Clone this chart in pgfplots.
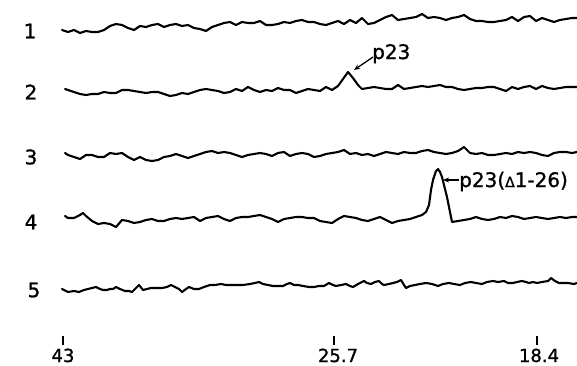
\documentclass[border=0pt]{standalone}
\usepackage{pgfplots}
\pgfplotsset{compat=1.18}
\usetikzlibrary{arrows.meta}
\usepackage{fontspec}
\setmainfont{DejaVu Sans}[FakeBold=1.2]
\newfontfamily\heavy{DejaVu Sans}[FakeBold=1.2]
\tikzset{trace/.style={black, line width=2.1pt, line join=round, line cap=round, mark=none}}
\begin{document}
\begin{tikzpicture}
\begin{axis}[name=ax,
  width=577pt, height=365pt, scale only axis,
  xmin=0, xmax=577, ymin=0, ymax=365, y dir=reverse,
  hide axis, clip=false]
% trace 1
\addplot[trace] coordinates {(62,30)(68,32)(74,30)(80,33)(86,31)(92,32)(98,32)(104,30)(110,26)(116,24)(122,25)(128,28)(134,30)(140,26)(146,27)(152,25)(158,24)(164,27)(170,25)(176,24)(182,26)(188,25)(194,28)(200,29)(206,31)(212,27)(218,25)(224,23)(230,22)(236,25)(242,22)(248,23)(254,23)(260,21)(266,25)(272,25)(278,24)(284,22)(290,23)(296,21)(302,20)(308,22)(314,22)(320,24)(326,25)(332,23)(338,21)(344,24)(350,20)(356,23)(362,18)(368,24)(374,23)(380,20)(386,17)(392,15)(398,20)(404,19)(410,18)(416,17)(422,14)(428,18)(434,17)(440,18)(446,20)(452,18)(458,17)(464,15)(470,19)(476,21)(482,21)(488,22)(494,22)(500,21)(506,20)(512,17)(518,21)(524,17)(530,16)(536,21)(542,18)(548,20)(554,22)(560,20)(566,19)(572,18)(577,18)};
% trace 2
\addplot[trace] coordinates {(65,89)(68,90)(74,92)(80,94)(86,95)(92,94)(98,94)(104,92)(110,93)(116,93)(122,90)(128,90)(134,91)(140,92)(146,93)(152,92)(158,92)(164,94)(170,96)(176,95)(182,93)(188,94)(194,92)(200,90)(206,89)(212,90)(218,91)(224,93)(230,92)(236,89)(242,91)(248,87)(254,90)(260,92)(266,90)(272,91)(278,88)(284,90)(290,90)(296,93)(302,91)(308,89)(314,90)(320,91)(326,87)(332,90)(338,86)(343,79)(348,72)(353,78)(358,85)(362,89)(368,88)(374,87)(380,88)(386,89)(392,89)(398,85)(404,89)(410,88)(416,87)(422,86)(428,87)(434,86)(440,85)(446,87)(452,87)(458,89)(464,90)(470,89)(476,88)(482,88)(488,87)(494,87)(500,89)(506,91)(512,87)(518,89)(524,87)(530,86)(536,89)(542,86)(548,88)(554,89)(560,88)(566,87)(572,87)(577,87)};
% trace 3
\addplot[trace] coordinates {(65,153)(68,155)(74,157)(80,159)(86,155)(92,155)(98,157)(104,157)(110,153)(116,154)(122,153)(128,157)(134,160)(140,157)(146,160)(152,161)(158,160)(164,157)(170,156)(176,154)(182,156)(188,158)(194,156)(200,154)(206,152)(212,151)(218,153)(224,152)(230,153)(236,155)(242,157)(248,155)(254,154)(260,153)(266,154)(272,156)(278,153)(284,152)(290,156)(296,154)(302,153)(308,154)(314,157)(320,156)(326,154)(332,153)(338,152)(344,150)(350,154)(356,153)(362,155)(368,154)(374,156)(380,154)(386,152)(392,153)(398,154)(404,152)(410,153)(416,153)(422,151)(428,150)(434,152)(440,153)(446,154)(452,153)(458,151)(464,147)(470,153)(476,154)(482,153)(488,155)(494,155)(500,154)(506,153)(512,154)(518,152)(524,153)(530,152)(536,153)(542,155)(548,156)(554,153)(560,152)(566,152)(572,153)(577,152)};
% trace 4
\addplot[trace] coordinates {(65,216)(68,218)(74,218)(80,215)(83,213)(86,216)(92,221)(98,224)(104,223)(110,224)(116,227)(122,220)(128,221)(134,223)(140,222)(146,220)(152,219)(158,221)(164,221)(170,219)(176,218)(182,219)(188,218)(194,217)(200,221)(206,218)(212,217)(218,216)(224,219)(230,221)(236,218)(242,217)(248,217)(254,216)(260,215)(266,217)(272,219)(278,222)(284,219)(290,218)(296,217)(302,217)(308,218)(314,218)(320,221)(326,222)(332,223)(338,219)(344,216)(350,217)(356,218)(362,220)(368,221)(374,219)(380,217)(386,220)(392,223)(398,221)(404,220)(410,219)(416,217)(422,215)(426,212)(429,205)(431,190)(433,180)(436,171)(438,169)(440,172)(442,177)(444,185)(447,197)(450,212)(452,222)(458,221)(464,220)(470,219)(476,217)(482,219)(488,220)(494,219)(500,217)(506,218)(512,216)(518,217)(524,219)(530,218)(536,217)(542,218)(548,219)(554,218)(560,217)(566,218)(572,217)(577,217)};
% trace 5
\addplot[trace] coordinates {(62,289)(68,292)(74,291)(79,292)(84,290)(88,289)(92,288)(96,287)(100,289)(103,290)(107,290)(110,289)(113,289)(116,287)(120,289)(125,291)(129,291)(132,292)(136,288)(139,285)(143,290)(147,289)(151,288)(156,288)(162,288)(167,287)(171,285)(175,287)(179,289)(182,292)(186,289)(189,287)(194,289)(199,289)(204,287)(210,285)(215,285)(221,284)(226,285)(232,285)(238,285)(243,285)(250,284)(255,283)(259,282)(263,284)(268,285)(273,286)(278,286)(283,286)(287,284)(290,283)(294,285)(298,285)(303,286)(309,287)(314,287)(319,286)(324,286)(329,283)(333,285)(336,286)(341,285)(346,284)(350,286)(353,287)(358,284)(364,281)(367,283)(371,284)(375,282)(379,281)(382,284)(384,285)(389,284)(393,283)(397,282)(401,280)(404,285)(406,288)(410,286)(415,285)(420,284)(426,283)(432,284)(438,286)(443,284)(449,283)(454,284)(460,285)(465,283)(471,282)(476,283)(482,284)(487,282)(493,281)(498,282)(504,281)(508,283)(513,283)(517,282)(522,281)(526,282)(529,283)(533,282)(537,283)(542,282)(548,281)(551,278)(555,281)(559,283)(563,283)(568,283)(574,284)(577,283)};
% lane labels
\node[inner sep=0, font=\heavy\fontsize{20}{20}\selectfont] at (axis cs:30,31) {1};
\node[inner sep=0, font=\heavy\fontsize{20}{20}\selectfont] at (axis cs:31,92) {2};
\node[inner sep=0, font=\heavy\fontsize{20}{20}\selectfont] at (axis cs:31,157) {3};
\node[inner sep=0, font=\heavy\fontsize{20}{20}\selectfont] at (axis cs:31,222) {4};
\node[inner sep=0, font=\heavy\fontsize{20}{20}\selectfont] at (axis cs:34,290) {5};
% annotations
\node[inner sep=0, anchor=base west, font=\heavy\fontsize{20}{20}\selectfont] at (axis cs:372,59) {p23};
\draw[line width=1.3pt, -{Stealth[length=6pt,width=5pt]}] (axis cs:373,57) -- (axis cs:354,70);
\node[inner sep=0, anchor=base west, font=\heavy\fontsize{20}{20}\selectfont] at (axis cs:459,187) {p23({\fontsize{14}{14}\selectfont Δ}1-26)};
\draw[line width=1.3pt, -{Stealth[length=6pt,width=5pt]}] (axis cs:459,180) -- (axis cs:443,180);
% marker ticks
\draw[line width=1.4pt] (axis cs:63,336) -- (axis cs:63,345);
\draw[line width=1.4pt] (axis cs:334,336) -- (axis cs:334,345);
\draw[line width=1.4pt] (axis cs:537,336) -- (axis cs:537,345);
\node[inner sep=0, anchor=base, font=\heavy\fontsize{18}{18}\selectfont] at (axis cs:63,362) {43};
\node[inner sep=0, anchor=base, font=\heavy\fontsize{18}{18}\selectfont] at (axis cs:338,362) {25.7};
\node[inner sep=0, anchor=base, font=\heavy\fontsize{18}{18}\selectfont] at (axis cs:539,362) {18.4};
\end{axis}
\pgfresetboundingbox
\useasboundingbox (ax.south west) rectangle (ax.north east);
\end{tikzpicture}
\end{document}
